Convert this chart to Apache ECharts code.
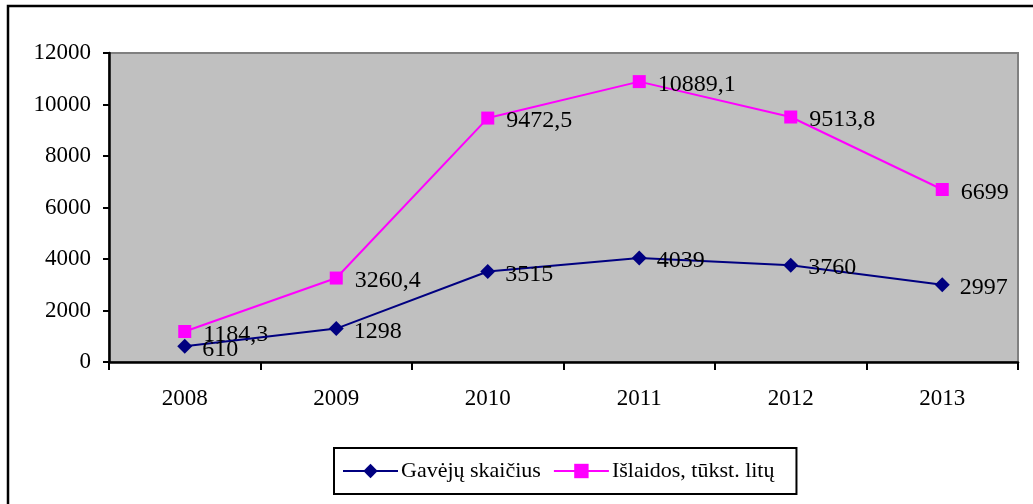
<!DOCTYPE html>
<html>
<head>
<meta charset="utf-8">
<script src="https://cdn.jsdelivr.net/npm/echarts@6/dist/echarts.min.js"></script>
<style>
  html, body { margin: 0; padding: 0; background: #fff; }
  #chart { width: 1033px; height: 504px; }
</style>
</head>
<body>
<div id="chart"></div>
<script>
// years and values
var years = ['2008', '2009', '2010', '2011', '2012', '2013'];
var gavejai = [610, 1298, 3515, 4039, 3760, 2997];
var islaidos = [1184.3, 3260.4, 9472.5, 10889.1, 9513.8, 6699];
var seriesNames = ['Gavėjų skaičius', 'Išlaidos, tūkst. litų'];

var font = 'Liberation Serif, Times New Roman, serif';

function commaLabel(p) {
	return String(p.value).replace('.', ',');
}

var chart = echarts.init(document.getElementById('chart'));

var option = {
	animation: false,
	backgroundColor: '#fff',
	graphic: [{
		type: 'rect',
		shape: { x: 8, y: 6, width: 1200, height: 700 },
		style: { fill: 'none', stroke: '#000', lineWidth: 2.5 },
		silent: true
	}],
	grid: {
		left: 109,
		right: 15,
		top: 53,
		bottom: 142,
		show: true,
		backgroundColor: '#c0c0c0',
		borderColor: '#808080',
		borderWidth: 2
	},
	legend: {
		left: 334,
		top: 448,
		padding: [12, 22, 12, 8],
		borderColor: '#000',
		borderWidth: 2,
		itemWidth: 55,
		itemHeight: 18,
		itemGap: 12,
		textStyle: { fontFamily: font, fontSize: 22, color: '#000', padding: [0, 0, 0, -2] },
		data: seriesNames
	},
	xAxis: {
		type: 'category',
		data: years,
		boundaryGap: true,
		axisLine: { lineStyle: { color: '#000', width: 2.5 } },
		axisTick: { show: true, length: 8, lineStyle: { color: '#000', width: 2 }, alignWithLabel: false },
		axisLabel: { fontFamily: font, fontSize: 23, color: '#000', margin: 25 },
		splitLine: { show: false }
	},
	yAxis: {
		type: 'value',
		min: 0,
		max: 12000,
		interval: 2000,
		axisLine: { show: true, lineStyle: { color: '#000', width: 2.5 } },
		axisTick: { show: true, length: 6, lineStyle: { color: '#000', width: 2 } },
		axisLabel: {
			fontFamily: font, fontSize: 23, color: '#000', margin: 18,
			formatter: function (v) { return String(v); }
		},
		splitLine: { show: false }
	},
	series: [{
		name: seriesNames[0],
		type: 'line',
		data: gavejai,
		symbol: 'diamond',
		symbolSize: 15,
		color: '#000080',
		lineStyle: { color: '#000080', width: 2 },
		itemStyle: { color: '#000080' },
		label: {
			show: true, position: 'right', distance: 10,
			fontFamily: font, fontSize: 24, color: '#000',
			offset: [0, 3],
			formatter: commaLabel
		},
		z: 3
	}, {
		name: seriesNames[1],
		type: 'line',
		data: islaidos,
		symbol: 'rect',
		symbolSize: 13,
		color: '#ff00ff',
		lineStyle: { color: '#ff00ff', width: 2 },
		itemStyle: { color: '#ff00ff' },
		label: {
			show: true, position: 'right', distance: 12,
			fontFamily: font, fontSize: 24, color: '#000',
			offset: [0, 3],
			formatter: commaLabel
		},
		z: 2
	}]
};

chart.setOption(option);
</script>
</body>
</html>
